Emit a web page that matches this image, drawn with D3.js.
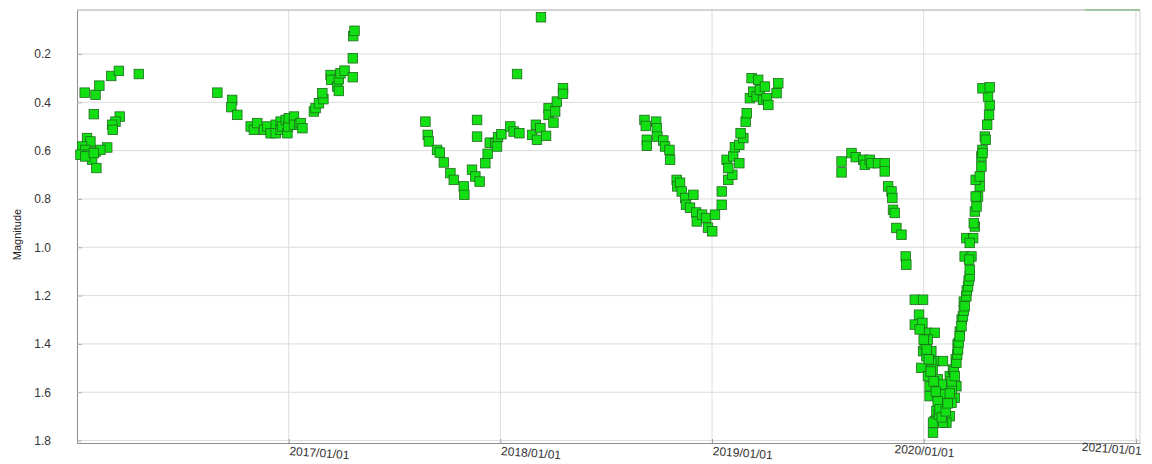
<!DOCTYPE html>
<html>
<head>
<meta charset="utf-8">
<script src="https://cdn.jsdelivr.net/npm/d3@7/dist/d3.min.js"></script>
<style>
  html, body { margin: 0; padding: 0; background: #ffffff; }
  svg { display: block; }
  text { font-family: "Liberation Sans", Arial, sans-serif; }
</style>
</head>
<body>
<svg id="chart" width="1152" height="464"></svg>
<script>
// Light-curve observations: [decimal year, visual magnitude], grouped by observing season
const season2016a = [
  [2016.039, 0.360], [2016.090, 0.369], [2016.108, 0.331], [2016.164, 0.291],
  [2016.200, 0.270], [2016.294, 0.283], [2016.082, 0.449], [2016.204, 0.459],
  [2016.184, 0.480], [2016.168, 0.493], [2016.171, 0.514], [2016.050, 0.548],
  [2016.066, 0.562], [2016.027, 0.583], [2016.042, 0.597], [2016.019, 0.617],
  [2016.058, 0.617], [2016.090, 0.604], [2016.145, 0.587], [2016.113, 0.597],
  [2016.074, 0.638], [2016.094, 0.672], [2016.042, 0.624], [2016.082, 0.610]
];
const season2016b = [
  [2016.664, 0.360], [2016.734, 0.390], [2016.730, 0.420], [2016.758, 0.452],
  [2016.821, 0.500], [2016.836, 0.514], [2016.852, 0.486], [2016.884, 0.514],
  [2016.900, 0.500], [2016.915, 0.528], [2016.939, 0.493], [2016.939, 0.528],
  [2016.962, 0.480], [2016.962, 0.514], [2016.970, 0.500], [2016.986, 0.473],
  [2016.994, 0.528], [2016.997, 0.500], [2017.001, 0.466], [2017.025, 0.459],
  [2017.025, 0.493], [2017.049, 0.493], [2017.057, 0.486], [2017.065, 0.507],
  [2017.119, 0.438], [2017.127, 0.424], [2017.143, 0.404], [2017.164, 0.387],
  [2017.159, 0.362], [2017.198, 0.287], [2017.201, 0.307], [2017.230, 0.335],
  [2017.237, 0.353], [2017.237, 0.305], [2017.245, 0.280], [2017.264, 0.269],
  [2017.303, 0.296], [2017.303, 0.218], [2017.305, 0.126], [2017.311, 0.104]
];
const season2017 = [
  [2017.646, 0.480], [2017.657, 0.535], [2017.662, 0.562], [2017.701, 0.597],
  [2017.714, 0.608], [2017.733, 0.649], [2017.764, 0.693], [2017.780, 0.721],
  [2017.827, 0.748], [2017.830, 0.783], [2017.866, 0.679], [2017.882, 0.707],
  [2017.902, 0.728], [2017.890, 0.473], [2017.890, 0.542], [2017.929, 0.652],
  [2017.940, 0.613], [2017.950, 0.567], [2017.976, 0.569], [2017.989, 0.544],
  [2018.005, 0.532], [2017.984, 0.583], [2018.047, 0.500], [2018.063, 0.521],
  [2018.079, 0.283], [2018.090, 0.528], [2018.150, 0.535], [2018.173, 0.555],
  [2018.168, 0.493], [2018.189, 0.507], [2018.192, 0.048], [2018.216, 0.539],
  [2018.228, 0.424], [2018.228, 0.452], [2018.251, 0.484], [2018.259, 0.438],
  [2018.267, 0.397], [2018.296, 0.342], [2018.296, 0.365]
];
const season2018 = [
  [2018.681, 0.473], [2018.687, 0.498], [2018.692, 0.555], [2018.692, 0.580],
  [2018.736, 0.480], [2018.739, 0.507], [2018.742, 0.542], [2018.770, 0.558],
  [2018.778, 0.583], [2018.799, 0.597], [2018.802, 0.638], [2018.833, 0.721],
  [2018.836, 0.748], [2018.849, 0.733], [2018.857, 0.769], [2018.873, 0.796],
  [2018.877, 0.824], [2018.896, 0.836], [2018.912, 0.783], [2018.925, 0.856],
  [2018.928, 0.893], [2018.953, 0.865], [2018.972, 0.879], [2018.981, 0.919],
  [2019.001, 0.934], [2019.014, 0.865], [2019.046, 0.824], [2019.046, 0.769],
  [2019.069, 0.638], [2019.077, 0.721], [2019.096, 0.700], [2019.077, 0.672],
  [2019.100, 0.624], [2019.108, 0.586], [2019.129, 0.652], [2019.129, 0.576],
  [2019.148, 0.548], [2019.135, 0.528], [2019.159, 0.480], [2019.164, 0.445],
  [2019.179, 0.383], [2019.187, 0.300], [2019.218, 0.307], [2019.195, 0.356],
  [2019.211, 0.376], [2019.226, 0.349], [2019.241, 0.390], [2019.250, 0.335],
  [2019.258, 0.383], [2019.266, 0.411], [2019.305, 0.362], [2019.313, 0.321]
];
const season2019 = [
  [2019.612, 0.645], [2019.612, 0.690], [2019.659, 0.610], [2019.679, 0.627],
  [2019.714, 0.638], [2019.722, 0.659], [2019.745, 0.638], [2019.753, 0.652],
  [2019.784, 0.652], [2019.816, 0.652], [2019.816, 0.686], [2019.832, 0.748],
  [2019.848, 0.769], [2019.852, 0.796], [2019.855, 0.845], [2019.863, 0.858],
  [2019.871, 0.920], [2019.895, 0.948], [2019.915, 1.038], [2019.918, 1.072],
  [2019.958, 1.217], [2019.997, 1.217], [2019.978, 1.279], [2019.958, 1.320],
  [2019.994, 1.313], [2020.013, 1.354], [2020.052, 1.354], [2019.997, 1.430],
  [2020.036, 1.430], [2019.989, 1.499], [2020.052, 1.471], [2020.091, 1.471],
  [2020.013, 1.451], [2020.036, 1.478], [2020.020, 1.533], [2020.028, 1.575],
  [2020.028, 1.616], [2020.067, 1.547], [2020.075, 1.588], [2020.083, 1.643],
  [2020.099, 1.671], [2020.123, 1.699], [2020.146, 1.623], [2020.154, 1.575],
  [2020.052, 1.719], [2020.044, 1.767], [2020.107, 1.726], [2020.123, 1.533],
  [2020.138, 1.506], [2020.091, 1.657], [2020.131, 1.643], [2020.060, 1.678],
  [2020.044, 1.726], [2020.091, 1.726], [2020.005, 1.402], [2020.019, 1.382],
  [2020.042, 1.506], [2020.066, 1.609], [2020.085, 1.568], [2020.113, 1.630],
  [2020.132, 1.588], [2020.071, 1.692], [2020.094, 1.609],
  [2019.981, 1.340], [2020.000, 1.382], [2020.014, 1.423], [2020.024, 1.464],
  [2020.033, 1.514], [2020.047, 1.555], [2020.057, 1.597], [2020.066, 1.638],
  [2020.075, 1.671], [2020.085, 1.704], [2020.104, 1.679], [2020.113, 1.646],
  [2020.123, 1.605], [2020.132, 1.555], [2020.142, 1.514], [2020.151, 1.464],
  [2020.160, 1.402], [2020.170, 1.349], [2020.179, 1.299], [2020.189, 1.225],
  [2020.146, 1.533], [2020.154, 1.478], [2020.158, 1.444], [2020.162, 1.423],
  [2020.165, 1.394], [2020.170, 1.368], [2020.178, 1.327], [2020.185, 1.286],
  [2020.189, 1.262], [2020.193, 1.244], [2020.201, 1.203], [2020.203, 1.179],
  [2020.209, 1.162], [2020.212, 1.138], [2020.217, 1.120], [2020.217, 1.093],
  [2020.193, 1.038], [2020.225, 1.038], [2020.214, 1.051], [2020.201, 0.962],
  [2020.233, 0.962], [2020.217, 0.982], [2020.241, 0.914], [2020.236, 0.900],
  [2020.241, 0.852], [2020.249, 0.831], [2020.256, 0.790], [2020.245, 0.790],
  [2020.264, 0.748], [2020.245, 0.721], [2020.264, 0.707], [2020.272, 0.666],
  [2020.272, 0.624], [2020.277, 0.597], [2020.277, 0.610], [2020.288, 0.542],
  [2020.292, 0.555], [2020.299, 0.493], [2020.308, 0.452], [2020.311, 0.411],
  [2020.303, 0.376], [2020.277, 0.342], [2020.311, 0.338]
];
const seasons = [season2016a, season2016b, season2017, season2018, season2019];

const magTicks = [0.2, 0.4, 0.6, 0.8, 1.0, 1.2, 1.4, 1.6, 1.8];
const yearTicks = [2017, 2018, 2019, 2020, 2021];
const magRange = [0.018, 1.81];
const dateRange = ["2016-01-02", "2021-01-08"];

// decimal year -> UTC Date
function yearToDate(y) {
  const yr = Math.floor(y);
  const a = Date.UTC(yr, 0, 1), b = Date.UTC(yr + 1, 0, 1);
  return new Date(a + (y - yr) * (b - a));
}

const svg = d3.select("#chart");
const plot = { left: 77, top: 10, right: 1140, bottom: 443 };

const x = d3.scaleUtc()
  .domain(dateRange.map(d => new Date(d + "T00:00:00Z")))
  .range([plot.left, plot.right]);
const y = d3.scaleLinear()
  .domain(magRange)
  .range([plot.top, plot.bottom]);

// grid
const grid = svg.append("g");
grid.selectAll("line.h").data(magTicks).enter().append("line")
  .attr("x1", plot.left).attr("x2", plot.right)
  .attr("y1", d => y(d)).attr("y2", d => y(d))
  .attr("stroke", "#dcdcdc").attr("stroke-width", 1);
grid.selectAll("line.v").data(yearTicks).enter().append("line")
  .attr("x1", d => x(yearToDate(d))).attr("x2", d => x(yearToDate(d)))
  .attr("y1", plot.top).attr("y2", plot.bottom)
  .attr("stroke", "#dcdcdc").attr("stroke-width", 1);

// frame
const frame = svg.append("g").attr("fill", "none");
frame.append("line").attr("x1", plot.left).attr("x2", plot.right)
  .attr("y1", plot.top).attr("y2", plot.top).attr("stroke", "#a8a8a8");
frame.append("line").attr("x1", plot.right).attr("x2", plot.right)
  .attr("y1", plot.top).attr("y2", plot.bottom).attr("stroke", "#cfcfcf");
frame.append("line").attr("x1", plot.right - 55).attr("x2", plot.right)
  .attr("y1", plot.top).attr("y2", plot.top).attr("stroke", "#6fb86f").attr("stroke-width", 1.2);

// y axis
const yAxis = svg.append("g")
  .attr("transform", `translate(${plot.left},0)`)
  .call(d3.axisLeft(y).tickValues(magTicks).tickFormat(d3.format(".1f"))
    .tickSizeInner(-5).tickSizeOuter(0).tickPadding(26));
yAxis.select(".domain").attr("stroke", "#8c8c8c");
yAxis.selectAll(".tick line").attr("stroke", "#b0b0b0");
yAxis.selectAll("text").attr("font-size", 12).attr("fill", "#333");

// x axis
const xAxis = svg.append("g")
  .attr("transform", `translate(0,${plot.bottom})`)
  .call(d3.axisBottom(x).tickValues(yearTicks.map(yearToDate))
    .tickFormat(d3.utcFormat("%Y/%m/%d")).tickSizeInner(-4).tickSizeOuter(0));
xAxis.select(".domain").attr("stroke", "#8c8c8c");
xAxis.selectAll(".tick line").attr("stroke", "#a0a0a0");
const lastTick = yearTicks.length - 1;
xAxis.selectAll(".tick text")
  .attr("font-size", 12).attr("fill", "#333")
  .attr("y", 0).attr("dy", 0)
  .attr("text-anchor", (d, i) => i === lastTick ? "end" : (i === lastTick - 1 ? "middle" : "start"))
  .attr("transform", (d, i) => `translate(${i === lastTick ? 5 : 0},12) rotate(4)`);

// y axis title
svg.append("text")
  .attr("transform", `translate(21,${(plot.top + plot.bottom) / 2 + 8}) rotate(-90)`)
  .attr("text-anchor", "middle")
  .attr("font-size", 11).attr("fill", "#222")
  .text("Magnitude");

// observations
const s = 9.5;
const pts = svg.append("g");
seasons.forEach(season => {
  pts.selectAll(null).data(season).enter().append("rect")
    .attr("x", d => x(yearToDate(d[0])) - s / 2)
    .attr("y", d => y(d[1]) - s / 2)
    .attr("width", s).attr("height", s)
    .attr("fill", "#12e012")
    .attr("stroke", "#1d6a1d").attr("stroke-width", 0.8);
});
</script>
</body>
</html>
